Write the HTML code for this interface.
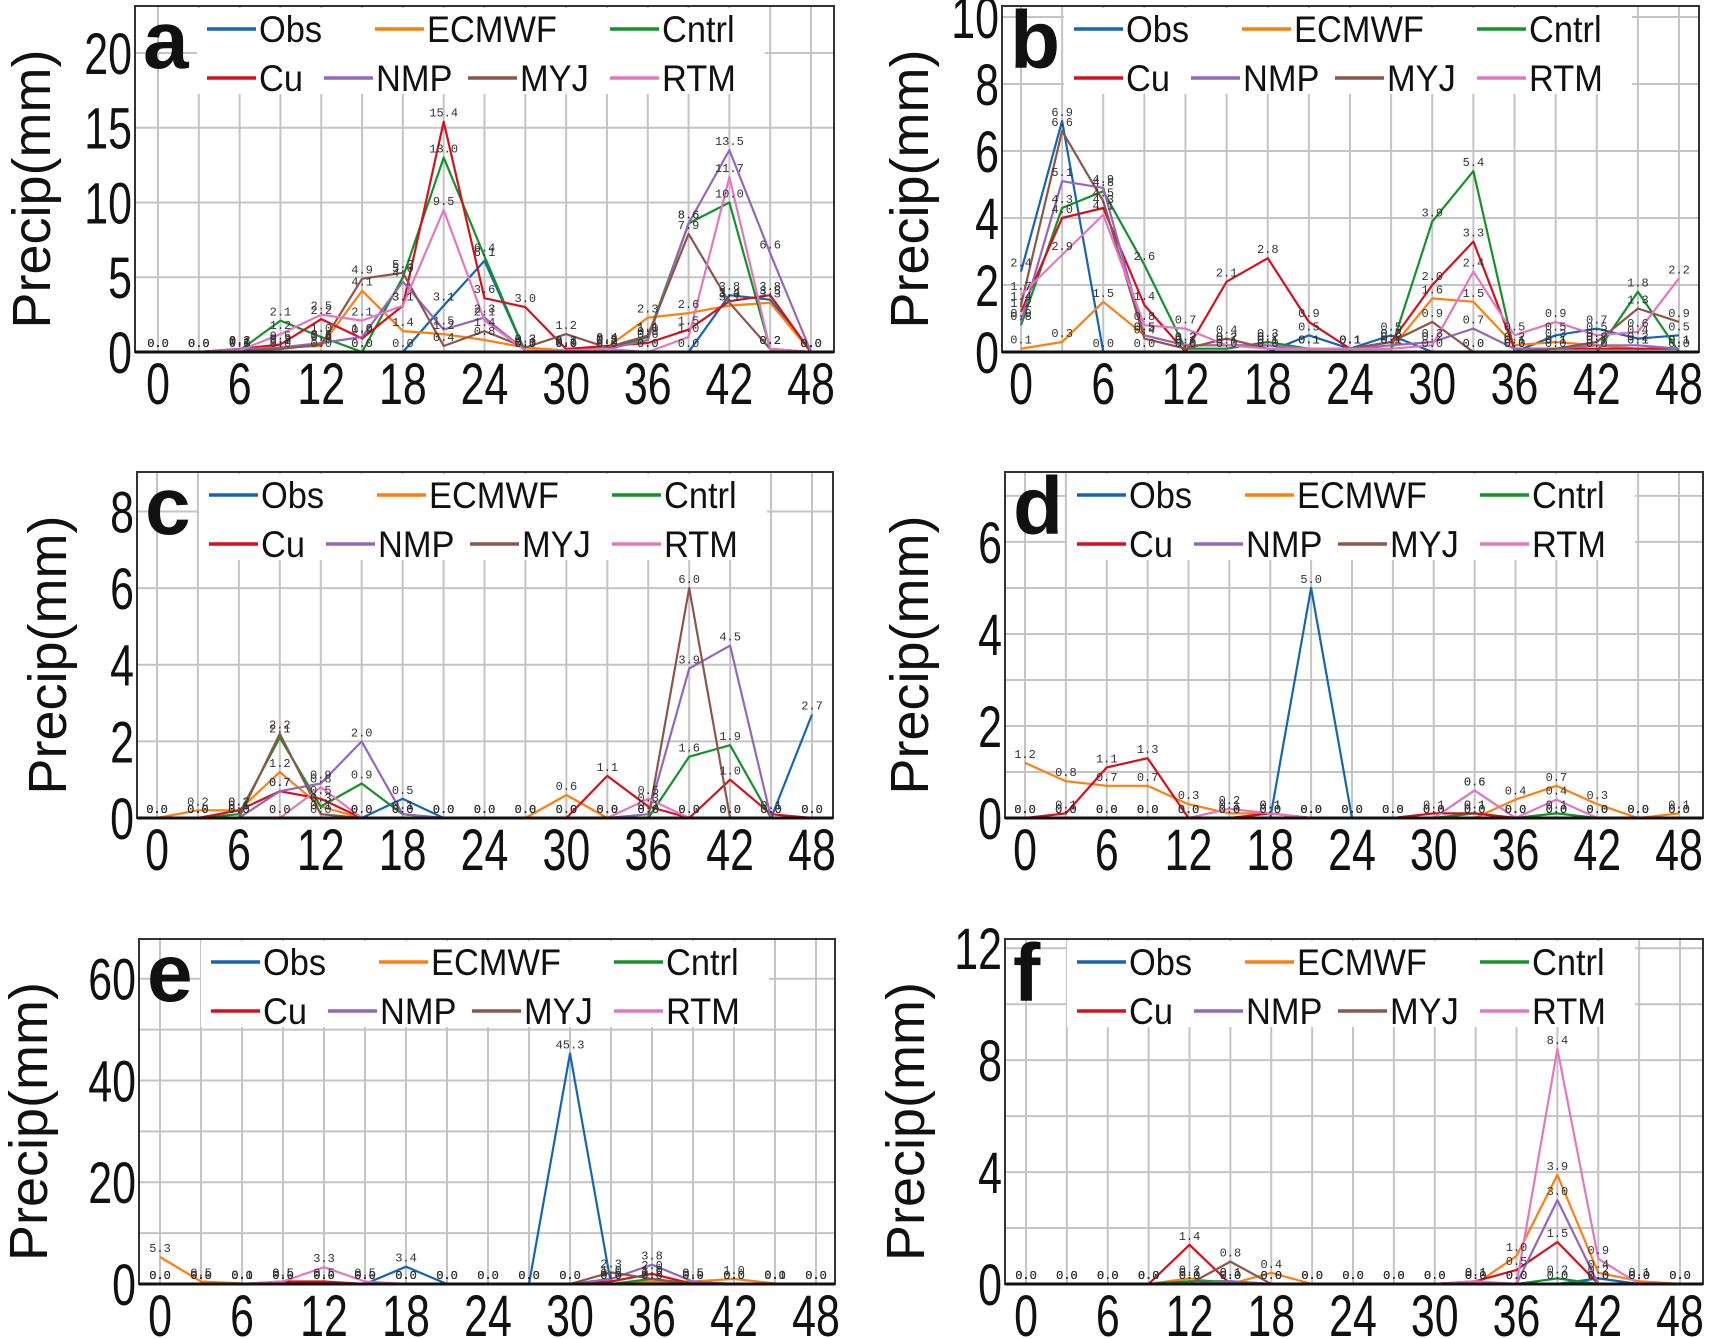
<!DOCTYPE html>
<html><head><meta charset="utf-8">
<style>
html,body{margin:0;padding:0;background:#fff;}
svg{display:block;}
text{font-family:"Liberation Sans",sans-serif;}
.tick{font-size:58px;fill:#111;}
.ytitle{font-size:54px;fill:#111;}
.leg{font-size:37px;fill:#111;}
.plet{font-size:82px;font-weight:bold;fill:#111;}
.vl{font-family:"Liberation Mono",monospace;font-size:12px;fill:#333;}
</style></head>
<body>
<svg id="fig" width="1714" height="1339" viewBox="0 0 1714 1339" xmlns="http://www.w3.org/2000/svg"></svg>
<script>
// time steps (hours)
const hours = [0,3,6,9,12,15,18,21,24,27,30,33,36,39,42,45,48];
const xTickLabels = ["0","6","12","18","24","30","36","42","48"];
const seriesNames = ["Obs","ECMWF","Cntrl","Cu","NMP","MYJ","RTM"];

// Panel a
const aObs   = [0,0,0,0,0,0,0,3.1,6.1,0,0,0,0,0,3.8,3.5,0];
const aECMWF = [0,0,0.2,0.3,0.4,4.1,1.4,1.2,0.8,0.3,0.1,0.3,2.3,2.6,3.1,3.3,0];
const aCntrl = [0,0,0.1,2.1,1.0,0,5.0,13.0,6.4,0,0,0.2,1.0,8.6,10.0,0.2,0];
const aCu    = [0,0,0.2,0.5,2.2,0.9,3.1,15.4,3.6,3.0,0.2,0.4,0.6,1.5,3.4,3.8,0];
const aNMP   = [0,0,0.2,0.3,0.6,1.0,4.7,1.5,2.3,0.1,0,0.2,0.8,8.6,13.5,6.6,0];
const aMYJ   = [0,0,0.1,0.2,0.5,4.9,5.3,0.4,1.4,0.3,1.2,0.3,1.1,7.9,3.3,0.2,0];
const aRTM   = [0,0,0.1,1.2,2.5,2.1,3.1,9.5,2.1,0.1,0.1,0.2,0,1.0,11.7,0.2,0];
// Panel b
const bObs   = [2.4,6.9,0,0,0,0,0,0.5,0.1,0.5,0,0,0,0.5,0.7,0.4,0.5];
const bECMWF = [0.1,0.3,1.5,0.5,0.2,0.2,0.2,0.1,0.1,0.1,1.6,1.5,0.2,0.3,0.2,0.1,0.1];
const bCntrl = [0.8,4.3,4.8,2.6,0.1,0.1,0.3,0.1,0.1,0.1,3.9,5.4,0,0,0,1.8,0];
const bCu    = [1.2,4.0,4.3,1.4,0,2.1,2.8,0.9,0.1,0.3,2.0,3.3,0.1,0.1,0.1,0.1,0.1];
const bNMP   = [0.9,5.1,4.9,0.5,0.2,0.2,0.2,0.1,0.1,0.2,0.3,0.7,0.1,0.1,0.2,0.2,0.1];
const bMYJ   = [1.4,6.6,4.5,0.4,0.1,0.4,0.1,0.1,0.1,0.3,0.9,0,0,0.1,0.3,1.3,0.9];
const bRTM   = [1.7,2.9,4.1,0.8,0.7,0.2,0.1,0.1,0.1,0.1,0.2,2.4,0.5,0.9,0.5,0.6,2.2];
// Panel c
const cObs   = [0,0,0,0,0,0,0.5,0,0,0,0,0,0,0,0,0,2.7];
const cECMWF = [0,0.2,0.2,1.2,0.3,0,0,0,0,0,0.6,0,0,0,0,0,0];
const cCntrl = [0,0,0.1,2.1,0.3,0.9,0.1,0,0,0,0,0,0,1.6,1.9,0,0];
const cCu    = [0,0,0.2,0.7,0.5,0,0,0,0,0,0,1.1,0.3,0,1.0,0.1,0];
const cNMP   = [0,0,0,0.7,0.9,2.0,0.1,0,0,0,0,0,0.1,3.9,4.5,0,0];
const cMYJ   = [0,0,0,2.2,0.1,0,0,0,0,0,0,0,0,6.0,0,0,0];
const cRTM   = [0,0,0,0,0.8,0,0,0,0,0,0,0,0.5,0,0,0,0];
// Panel d
const dObs   = [0,0,0,0,0,0,0,5.0,0,0,0,0,0,0,0,0,0];
const dECMWF = [1.2,0.8,0.7,0.7,0.3,0.1,0.1,0,0,0,0,0,0.4,0.7,0.3,0,0.1];
const dCntrl = [0,0,0,0,0,0,0,0,0,0,0,0.1,0,0.1,0,0,0];
const dCu    = [0,0.1,1.1,1.3,0,0,0.1,0,0,0,0.1,0.1,0,0,0,0,0];
const dNMP   = [0,0,0,0,0,0,0,0,0,0,0,0.6,0,0,0,0,0];
const dMYJ   = [0,0,0,0,0,0,0,0,0,0,0,0,0,0,0,0,0];
const dRTM   = [0,0,0,0,0,0.2,0.1,0,0,0,0,0.6,0,0.4,0,0,0];
// Panel e
const eObs   = [0,0,0,0,0,0,3.4,0,0,0,45.3,0,0,0,0,0,0];
const eECMWF = [5.3,0.5,0.1,0,0,0,0,0,0,0,0,0,0.5,0.5,1.0,0.1,0];
const eCntrl = [0,0,0,0,0,0,0,0,0,0,0,0,1.0,0,0,0,0];
const eCu    = [0,0,0,0.5,0.5,0,0,0,0,0,0,0.5,2.0,0,0,0,0];
const eNMP   = [0,0,0,0,0,0,0,0,0,0,0,1.0,3.8,0.5,0,0,0];
const eMYJ   = [0,0,0,0,0,0,0,0,0,0,0,2.3,1.0,0,0,0,0];
const eRTM   = [0,0,0,0.5,3.3,0.5,0,0,0,0,0,0,0,0,0,0,0];
// Panel f
const fObs   = [0,0,0,0,0,0,0,0,0,0,0,0,0,0,0.2,0,0];
const fECMWF = [0,0,0,0,0.2,0,0.4,0,0,0,0,0,1.0,3.9,0.4,0.1,0];
const fCntrl = [0,0,0,0,0.1,0.1,0,0,0,0,0,0,0,0.2,0,0,0];
const fCu    = [0,0,0,0,1.4,0,0,0,0,0,0,0.1,0.5,1.5,0,0,0];
const fNMP   = [0,0,0,0,0,0.1,0,0,0,0,0,0,0,3.0,0,0,0];
const fMYJ   = [0,0,0,0,0,0.8,0,0,0,0,0,0,0,0,0,0,0];
const fRTM   = [0,0,0,0,0,0,0,0,0,0,0,0.1,0,8.4,0.9,0,0];

// y-axis tick labels per panel
const aYTicks = [0,5,10,15,20];
const bYTicks = [0,2,4,6,8,10];
const cYTicks = [0,2,4,6,8];
const dYTicks = [0,2,4,6];
const eYTicks = [0,20,40,60];
const fYTicks = [0,4,8,12];

const colors = ["#1565b5","#ff7f0e","#13922a","#d6101e","#9467bd","#8c564b","#e377c2"];
const panels = [
 {id:"a",L:135,R:834,T:6,B:352,x0:158,x48:811,ymax:23.14,grid:5,ticks:aYTicks,data:[aObs,aECMWF,aCntrl,aCu,aNMP,aMYJ,aRTM],tcx:32},
 {id:"b",L:1002,R:1699,T:6,B:352,x0:1021,x48:1679,ymax:10.33,grid:2,ticks:bYTicks,data:[bObs,bECMWF,bCntrl,bCu,bNMP,bMYJ,bRTM],tcx:910},
 {id:"c",L:137,R:833,T:472,B:818,x0:157,x48:812,ymax:9.03,grid:2,ticks:cYTicks,data:[cObs,cECMWF,cCntrl,cCu,cNMP,cMYJ,cRTM],tcx:48},
 {id:"d",L:1005,R:1703,T:472,B:818,x0:1025,x48:1679,ymax:7.52,grid:1,ticks:dYTicks,data:[dObs,dECMWF,dCntrl,dCu,dNMP,dMYJ,dRTM],tcx:910},
 {id:"e",L:139,R:835,T:939,B:1284,x0:160,x48:816,ymax:67.8,grid:10,ticks:eYTicks,data:[eObs,eECMWF,eCntrl,eCu,eNMP,eMYJ,eRTM],tcx:29},
 {id:"f",L:1005,R:1703,T:939,B:1284,x0:1026,x48:1680,ymax:12.33,grid:2,ticks:fYTicks,data:[fObs,fECMWF,fCntrl,fCu,fNMP,fMYJ,fRTM],tcx:906}
];

const NS="http://www.w3.org/2000/svg";
const svg=document.getElementById("fig");
function mk(tag,attrs,parent){const e=document.createElementNS(NS,tag);for(const k in attrs)e.setAttribute(k,attrs[k]);(parent||svg).appendChild(e);return e;}

panels.forEach(p=>{
  const g=mk("g",{});
  
  
  const xs=h=>p.x0+(h/48)*(p.x48-p.x0);
  const ys=v=>p.B-(v/p.ymax)*(p.B-p.T);
  for(let v=p.grid;v<=p.ymax;v+=p.grid){
    const l=mk("line",{x1:p.L,x2:p.R,y1:ys(v),y2:ys(v),stroke:"#c4c4c4","stroke-width":2},g);
    
    
  }
  hours.forEach(h=>{
    const l=mk("line",{x1:xs(h),x2:xs(h),y1:p.T,y2:p.B,stroke:"#c4c4c4","stroke-width":2},g);
    
    
  });
  const lb=mk("rect",{x:p.L+62,y:p.T+2,width:568,height:86,fill:"#fff"},g);
  
  
  p.data.forEach((arr,si)=>{
    const pts=arr.map((v,i)=>xs(hours[i]).toFixed(1)+","+ys(v).toFixed(1)).join(" ");
    const pl=mk("polyline",{points:pts,fill:"none",stroke:colors[si],"stroke-width":2.2,"stroke-linejoin":"round"},g);
    
    
  });
  p.data.forEach((arr,si)=>{
    arr.forEach((v,i)=>{
      const t=mk("text",{x:xs(hours[i]),y:ys(v)-5,"text-anchor":"middle",class:"vl"},g);
      t.textContent=v.toFixed(1);
      
      
    });
  });
  const fr=mk("rect",{x:p.L,y:p.T,width:p.R-p.L,height:p.B-p.T,fill:"none",stroke:"#333","stroke-width":2},g);
  
  
  const xa=mk("line",{x1:p.L,x2:p.R,y1:p.B,y2:p.B,stroke:"#111","stroke-width":3},g);
  
  
  p.ticks.forEach(v=>{
    const t=mk("text",{x:0,y:0,"text-anchor":"end",class:"tick",transform:"translate("+(p.L-3)+","+(ys(v)+21)+") scale(0.74,1)"},g);
    t.textContent=String(v);
    
    
  });
  xTickLabels.forEach(s=>{
    const t=mk("text",{x:0,y:0,"text-anchor":"middle",class:"tick",transform:"translate("+xs(+s)+","+(p.B+52)+") scale(0.74,1)"},g);
    t.textContent=s;
    
    
  });
  const cy=(p.T+p.B)/2+10;
  const yt=mk("text",{x:p.tcx+18,y:cy,"text-anchor":"middle",class:"ytitle",transform:"rotate(-90 "+(p.tcx+18)+" "+cy+")"},g);
  yt.textContent="Precip(mm)";
  
  
  const pl=mk("text",{x:p.L+8,y:p.T+62,class:"plet"},g);
  pl.textContent=p.id;
  
  
  const legPos=[[72,23],[240,23],[475,23],[72,72],[189,72],[333,72],[475,72]];
  seriesNames.forEach((n,si)=>{
    const [ox,oy]=legPos[si];
    const lg=mk("g",{},g);
    
    
    mk("line",{x1:p.L+ox,x2:p.L+ox+49,y1:p.T+oy,y2:p.T+oy,stroke:colors[si],"stroke-width":3.5},lg);
    const t=mk("text",{x:0,y:0,class:"leg",transform:"translate("+(p.L+ox+52)+","+(p.T+oy+13)+") scale(0.93,1)"},lg);
    t.textContent=n;
  });
});
</script>
</body></html>
